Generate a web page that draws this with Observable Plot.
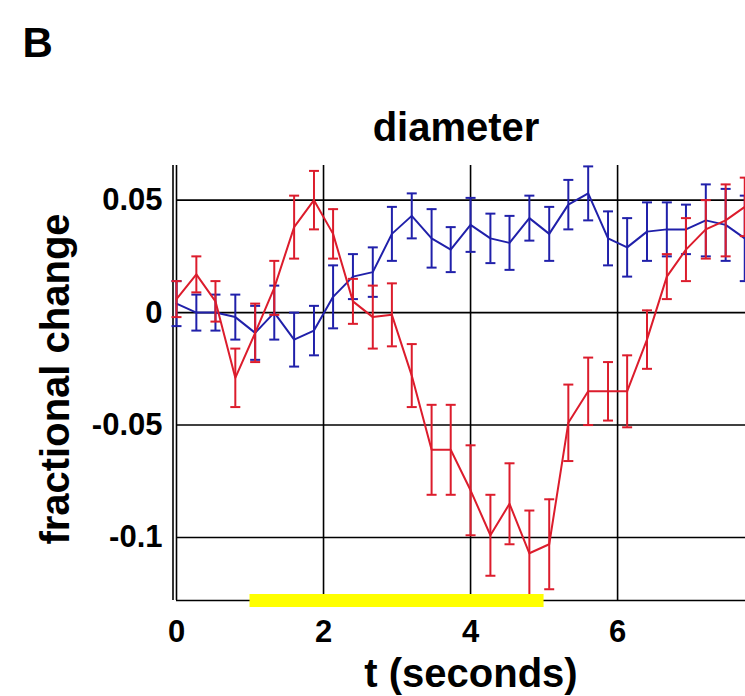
<!DOCTYPE html>
<html>
<head>
<meta charset="utf-8">
<script src="https://cdn.jsdelivr.net/npm/d3@7"></script>
<script src="https://cdn.jsdelivr.net/npm/@observablehq/plot@0.6"></script>
<style>
  body { margin: 0; background: #fff; }
  #chart { width: 745px; height: 696px; overflow: hidden; }
</style>
</head>
<body>
<div id="chart"></div>
<script>
// ---- data ----
const t = [0, 0.27, 0.53, 0.8, 1.07, 1.33, 1.6, 1.87, 2.13, 2.4,
           2.67, 2.93, 3.2, 3.47, 3.73, 4.0, 4.27, 4.53, 4.8, 5.07,
           5.33, 5.6, 5.87, 6.13, 6.4, 6.67, 6.93, 7.2, 7.47, 7.73];

const redMean = [0.006, 0.017, 0.005, -0.029, -0.009, 0.011, 0.038, 0.050, 0.035, 0.005,
                 -0.002, -0.001, -0.028, -0.061, -0.061, -0.079, -0.099, -0.085, -0.107, -0.103,
                 -0.049, -0.035, -0.035, -0.035, -0.012, 0.016, 0.028, 0.037, 0.041, 0.047];
const redErr  = [0.008, 0.008, 0.009, 0.013, 0.013, 0.012, 0.014, 0.013, 0.011, 0.010,
                 0.014, 0.014, 0.014, 0.020, 0.020, 0.020, 0.018, 0.018, 0.019, 0.020,
                 0.017, 0.015, 0.013, 0.016, 0.013, 0.010, 0.014, 0.013, 0.016, 0.013];

const blueMean = [0.004, 0.000, 0.000, -0.002, -0.009, 0.000, -0.012, -0.008, 0.007, 0.016,
                  0.018, 0.035, 0.043, 0.033, 0.028, 0.039, 0.033, 0.031, 0.042, 0.035,
                  0.048, 0.053, 0.033, 0.029, 0.036, 0.037, 0.037, 0.041, 0.039, 0.033];
const blueErr  = [0.010, 0.008, 0.008, 0.010, 0.012, 0.012, 0.012, 0.011, 0.014, 0.010,
                  0.011, 0.012, 0.010, 0.013, 0.010, 0.012, 0.011, 0.012, 0.010, 0.012,
                  0.011, 0.012, 0.012, 0.013, 0.013, 0.012, 0.011, 0.016, 0.016, 0.019];

const xTicks = [0, 2, 4, 6];
const xTickLabels = ["0", "2", "4", "6"];
const yTicks = [0.05, 0, -0.05, -0.1];
const yTickLabels = ["0.05", "0", "-0.05", "-0.1"];
const stimulus = [{start: 1, end: 5}];
const xDomain = [0, 7.74];
const yDomain = [-0.128, 0.0654];

const panelLabel = "B";
const titleText = "diameter";
const xLabel = "t (seconds)";
const yLabel = "fractional change";

const RED = "#dc1c2c";
const BLUE = "#2020aa";

const rows = (m, e) => t.map((tt, i) => ({t: tt, v: m[i], lo: m[i] - e[i], hi: m[i] + e[i]}));
const red = rows(redMean, redErr);
const blue = rows(blueMean, blueErr);

const cap = {
  draw(ctx, size) {
    const w = Math.sqrt(size / Math.PI);
    ctx.moveTo(-w, 0);
    ctx.lineTo(w, 0);
  }
};

function seriesMarks(data, color) {
  return [
    Plot.ruleX(data, {x: "t", y1: "lo", y2: "hi", stroke: color, strokeWidth: 2}),
    Plot.dot(data, {x: "t", y: "lo", symbol: cap, r: 5, fill: "none", stroke: color, strokeWidth: 2}),
    Plot.dot(data, {x: "t", y: "hi", symbol: cap, r: 5, fill: "none", stroke: color, strokeWidth: 2}),
    Plot.line(data, {x: "t", y: "v", stroke: color, strokeWidth: 2})
  ];
}

const chart = Plot.plot({
  width: 745,
  height: 696,
  marginLeft: 176,
  marginRight: 0,
  marginTop: 165,
  marginBottom: 96,
  style: {fontFamily: "'Liberation Sans', Arial, sans-serif", fontWeight: "bold", background: "#fff", color: "#000"},
  x: {domain: xDomain},
  y: {domain: yDomain},
  marks: [
    Plot.gridY(yTicks, {stroke: "#000", strokeOpacity: 1, strokeWidth: 1.6}),
    Plot.gridX(xTicks.slice(1), {stroke: "#000", strokeOpacity: 1, strokeWidth: 1.6}),
    Plot.ruleX([xDomain[0]], {stroke: "#000", strokeWidth: 1.6}),
    Plot.ruleX([xDomain[0]], {stroke: "#000", strokeWidth: 1.6, dx: -3.5}),
    Plot.ruleY([yDomain[0]], {stroke: "#000", strokeWidth: 1.6}),
    Plot.axisX(xTicks, {tickSize: 0, tickPadding: 19, fontSize: 31, label: null,
      tickFormat: (d, i) => xTickLabels[i]}),
    Plot.axisY(yTicks, {tickSize: 0, tickPadding: 14, fontSize: 31, label: null,
      tickFormat: (d, i) => yTickLabels[i]}),
    ...seriesMarks(blue, BLUE),
    ...seriesMarks(red, RED),
    Plot.ruleY(stimulus, {x1: "start", x2: "end", y: () => yDomain[0], stroke: "#ffff00", strokeWidth: 13}),
    Plot.text([panelLabel], {frameAnchor: "top-left", dx: -154, dy: -109, textAnchor: "start", lineAnchor: "bottom", fontSize: 42}),
    Plot.text([titleText], {frameAnchor: "top", dx: -5, dy: -25, lineAnchor: "bottom", fontSize: 40}),
    Plot.text([xLabel], {frameAnchor: "bottom", dx: 10, dy: 86, lineAnchor: "bottom", fontSize: 40}),
    Plot.text([yLabel], {frameAnchor: "left", dx: -108, dy: -4, rotate: -90, textAnchor: "middle", lineAnchor: "bottom", fontSize: 40})
  ]
});

document.getElementById("chart").appendChild(chart);
</script>
</body>
</html>
